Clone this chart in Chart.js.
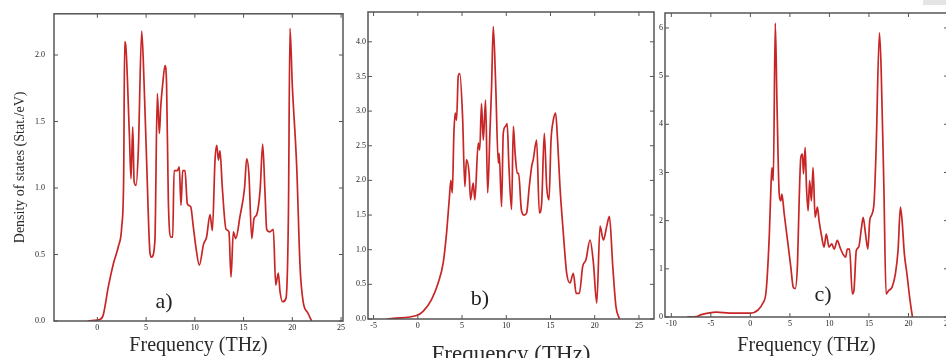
<!DOCTYPE html>
<html lang="en">
  <head>
    <meta charset="UTF-8" />
    <title>Phonon density of states</title>
    <script src="https://cdn.jsdelivr.net/npm/chart.js"></script>
    <style>
      body {
        margin: 0;
        background: #fff;
        overflow: hidden;
      }
      .wrap {
        position: relative;
        width: 946px;
        height: 358px;
        overflow: hidden;
      }
      canvas {
        position: absolute;
        top: 0;
      }
      .corner {
        position: absolute;
        left: 923px;
        top: 0;
        width: 23px;
        height: 5px;
        background: #e4e4e4;
      }
    </style>
  </head>
  <body>
    <div class="wrap">
      <canvas id="chartA" width="352" height="358" style="left: 0"></canvas>
      <canvas id="chartB" width="310" height="369" style="left: 350px"></canvas>
      <canvas id="chartC" width="310" height="358" style="left: 655px"></canvas>
      <div class="corner"></div>
    </div>

    <script>
      // panel a)
      const freqA = [-1.0, -0.4, 0.2, 0.6, 1.13, 1.64, 2.15, 2.5, 2.7, 2.8, 2.9, 3.28, 3.45, 3.63, 3.77, 3.97, 4.2, 4.55, 4.8, 5.07, 5.4, 5.55, 5.9, 6.15, 6.36, 6.5, 6.7, 6.94, 7.1, 7.28, 7.56, 7.73, 7.87, 8.2, 8.4, 8.58, 8.75, 8.99, 9.23, 9.57, 9.84, 10.1, 10.46, 10.9, 11.2, 11.56, 11.8, 12.07, 12.25, 12.42, 12.58, 12.82, 13.2, 13.5, 13.71, 13.95, 14.2, 14.64, 15.1, 15.32, 15.55, 15.84, 16.07, 16.35, 16.7, 16.96, 17.2, 17.37, 17.7, 18.05, 18.3, 18.56, 18.74, 19.0, 19.35, 19.6, 19.76, 20.0, 20.45, 20.8, 21.1, 21.6, 21.98];
      const dosA = [0.0, 0.005, 0.01, 0.045, 0.26, 0.43, 0.56, 0.71, 1.1, 2.1, 2.08, 1.41, 1.07, 1.46, 1.05, 1.02, 1.28, 2.18, 1.77, 1.16, 0.51, 0.48, 0.6, 1.71, 1.41, 1.61, 1.78, 1.92, 1.78, 0.91, 0.63, 0.63, 1.13, 1.13, 1.16, 0.87, 1.13, 1.13, 0.88, 0.86, 0.71, 0.56, 0.42, 0.58, 0.63, 0.8, 0.68, 1.21, 1.32, 1.21, 1.28, 1.0, 0.69, 0.67, 0.33, 0.67, 0.62, 0.79, 1.0, 1.22, 1.1, 0.62, 0.77, 0.8, 0.99, 1.33, 0.96, 0.69, 0.67, 0.69, 0.27, 0.36, 0.22, 0.145, 0.17, 0.8, 2.2, 1.77, 1.16, 0.4, 0.15, 0.06, 0.0];

      // panel b)
      const freqB = [-3.5, -2.8, -0.15, 0.6, 1.55, 2.3, 2.87, 3.25, 3.55, 3.74, 3.9, 4.08, 4.23, 4.38, 4.57, 4.75, 5.06, 5.32, 5.5, 5.8, 5.96, 6.26, 6.45, 6.83, 7.0, 7.2, 7.4, 7.66, 7.9, 8.15, 8.34, 8.53, 8.8, 9.1, 9.2, 9.47, 9.66, 9.92, 10.1, 10.3, 10.6, 10.8, 11.0, 11.25, 11.4, 11.7, 12.0, 12.3, 12.6, 12.87, 13.05, 13.43, 13.74, 14.0, 14.3, 14.57, 14.83, 15.06, 15.32, 15.58, 15.8, 16.07, 16.45, 16.83, 17.2, 17.58, 17.9, 18.26, 18.64, 19.0, 19.47, 19.85, 20.23, 20.6, 20.98, 21.36, 21.66, 22.04, 22.4, 22.8];
      const dosB = [0.0, 0.01, 0.05, 0.11, 0.28, 0.52, 0.81, 1.24, 1.72, 2.0, 1.82, 2.68, 2.97, 2.87, 3.5, 3.54, 2.92, 1.91, 2.3, 2.1, 1.72, 1.96, 1.72, 2.54, 2.44, 3.11, 2.58, 3.16, 1.82, 2.68, 3.35, 4.22, 3.4, 2.25, 2.39, 1.62, 2.68, 2.78, 2.82, 2.2, 1.58, 2.78, 2.39, 2.1, 2.1, 1.58, 1.5, 1.53, 1.91, 2.2, 2.3, 2.58, 1.53, 1.67, 2.68, 1.91, 1.72, 2.58, 2.87, 2.97, 2.58, 1.91, 1.24, 0.66, 0.52, 0.66, 0.37, 0.37, 0.76, 0.85, 1.14, 0.81, 0.23, 1.34, 1.14, 1.34, 1.48, 0.76, 0.18, 0.0];

      // panel c)
      const freqC = [-8.0, -6.84, -6.2, -5.37, -4.3, -2.6, -1.4, 0.08, 0.92, 1.55, 2.0, 2.4, 2.6, 2.73, 2.9, 3.15, 3.36, 3.65, 3.86, 3.99, 4.28, 4.7, 5.12, 5.42, 5.67, 5.96, 6.17, 6.38, 6.59, 6.72, 6.93, 7.1, 7.3, 7.5, 7.72, 7.93, 8.19, 8.48, 8.69, 9.03, 9.32, 9.6, 9.95, 10.3, 10.6, 11.0, 11.33, 11.7, 12.05, 12.26, 12.55, 12.9, 13.1, 13.4, 13.7, 14.06, 14.27, 14.57, 14.86, 15.1, 15.4, 15.66, 15.9, 16.33, 16.54, 16.88, 17.17, 17.5, 17.93, 18.35, 18.68, 18.98, 19.19, 19.48, 19.8, 20.2, 20.5];
      const dosC = [0.0, 0.01, 0.05, 0.08, 0.1, 0.08, 0.08, 0.08, 0.14, 0.28, 0.55, 1.72, 2.69, 3.1, 2.83, 6.1, 4.48, 2.55, 2.41, 2.55, 2.14, 1.59, 1.03, 0.62, 0.59, 1.1, 2.41, 3.31, 3.38, 2.97, 3.52, 2.69, 2.2, 2.83, 2.41, 3.1, 2.07, 2.28, 2.0, 1.66, 1.45, 1.72, 1.45, 1.52, 1.41, 1.59, 1.45, 1.31, 1.24, 1.41, 1.41, 0.48, 0.55, 1.38, 1.45, 1.86, 2.07, 1.72, 1.41, 2.0, 2.14, 2.41, 3.45, 5.9, 5.17, 2.76, 0.48, 0.55, 0.62, 0.9, 1.38, 2.28, 2.0, 1.31, 0.9, 0.34, 0.0];

      // tick labels
      const xTicksA = [0, 5, 10, 15, 20, 25];
      const yTicksA = [0, 0.5, 1.0, 1.5, 2.0];
      const xTicksB = [-5, 0, 5, 10, 15, 20, 25];
      const yTicksB = [0, 0.5, 1.0, 1.5, 2.0, 2.5, 3.0, 3.5, 4.0];
      const xTicksC = [-10, -5, 0, 5, 10, 15, 20, 25];
      const yTicksC = [0, 1, 2, 3, 4, 5, 6];

      const SERIF = '"Liberation Serif", "DejaVu Serif", serif';
      const AXIS = "#555";

      // box + inward tick marks + panel letter
      const frame = {
        id: "frame",
        afterDraw(chart, args, opts) {
          const { ctx, chartArea: a } = chart;
          const { x, y } = chart.scales;
          ctx.save();
          ctx.strokeStyle = AXIS;
          ctx.lineWidth = 1.5;
          ctx.strokeRect(a.left, a.top, a.right - a.left, a.bottom - a.top);
          ctx.lineWidth = 1;
          ctx.beginPath();
          x.ticks.forEach((t) => {
            const p = x.getPixelForValue(t.value);
            if (p < a.left || p > a.right) return;
            ctx.moveTo(p, a.bottom);
            ctx.lineTo(p, a.bottom - 4);
            ctx.moveTo(p, a.top);
            ctx.lineTo(p, a.top + 4);
          });
          y.ticks.forEach((t) => {
            const p = y.getPixelForValue(t.value);
            ctx.moveTo(a.left, p);
            ctx.lineTo(a.left + 4, p);
            ctx.moveTo(a.right, p);
            ctx.lineTo(a.right - 4, p);
          });
          ctx.stroke();
          ctx.font = "22px " + SERIF;
          ctx.fillStyle = "#222";
          ctx.textAlign = "center";
          ctx.textBaseline = "middle";
          ctx.fillText(opts.label, opts.lx, opts.ly);
          ctx.restore();
        },
      };

      function makePanel(id, p) {
        const ctx = document.getElementById(id).getContext("2d");
        return new Chart(ctx, {
          type: "line",
          data: {
            datasets: [
              {
                data: p.freq.map((f, i) => ({ x: f, y: p.dos[i] })),
                borderColor: "#c82626",
                borderWidth: 1.7,
                pointRadius: 0,
                cubicInterpolationMode: "monotone",
                fill: false,
              },
            ],
          },
          options: {
            responsive: false,
            animation: false,
            layout: { padding: p.padding },
            plugins: {
              legend: { display: false },
              tooltip: { enabled: false },
              frame: { label: p.label, lx: p.lx, ly: p.ly },
            },
            scales: {
              x: {
                type: "linear",
                min: p.xMin,
                max: p.xMax,
                grid: { display: false, drawTicks: false },
                border: { display: false },
                afterBuildTicks: (s) => {
                  s.ticks = p.xTicks.map((v) => ({ value: v }));
                },
                afterFit: (s) => {
                  s.height = p.xAxisH;
                },
                ticks: {
                  autoSkip: false,
                  maxRotation: 0,
                  padding: 2,
                  color: "#222",
                  font: { family: SERIF, size: 8 },
                },
                title: {
                  display: true,
                  text: "Frequency (THz)",
                  color: "#2a2a2a",
                  padding: 0,
                  font: { family: SERIF, size: p.titleSize },
                },
              },
              y: {
                min: 0,
                max: p.yMax,
                grid: { display: false, drawTicks: false },
                border: { display: false },
                afterBuildTicks: (s) => {
                  s.ticks = p.yTicks.map((v) => ({ value: v }));
                },
                afterFit: (s) => {
                  s.width = p.yAxisW;
                },
                ticks: {
                  padding: p.yPad,
                  color: "#222",
                  font: { family: SERIF, size: 8 },
                  callback: (v) => (p.yDigits ? v.toFixed(1) : String(v)),
                },
                title: {
                  display: !!p.yTitle,
                  text: p.yTitle || "",
                  color: "#2a2a2a",
                  padding: { top: 12, bottom: 0 },
                  font: { family: SERIF, size: 14 },
                },
              },
            },
          },
          plugins: [frame],
        });
      }

      makePanel("chartA", {
        freq: freqA, dos: dosA, xTicks: xTicksA, yTicks: yTicksA,
        xMin: -4.45, xMax: 25.2, yMax: 2.31, yDigits: true,
        padding: { top: 13, right: 9, left: 0, bottom: 0 },
        yAxisW: 54, xAxisH: 37, yPad: 9, titleSize: 20,
        yTitle: "Density of states (Stat./eV)",
        label: "a)", lx: 164, ly: 302,
      });

      makePanel("chartB", {
        freq: freqB, dos: dosB, xTicks: xTicksB, yTicks: yTicksB,
        xMin: -5.63, xMax: 26.7, yMax: 4.43, yDigits: true,
        padding: { top: 12, right: 6, left: 0, bottom: 0 },
        yAxisW: 18, xAxisH: 50, yPad: 2, titleSize: 23,
        label: "b)", lx: 130, ly: 299,
      });

      makePanel("chartC", {
        freq: freqC, dos: dosC, xTicks: xTicksC, yTicks: yTicksC,
        xMin: -10.8, xMax: 25, yMax: 6.31, yDigits: false,
        padding: { top: 13, right: 17, left: 0, bottom: 0 },
        yAxisW: 10, xAxisH: 41, yPad: 2, titleSize: 20,
        label: "c)", lx: 168, ly: 295,
      });
    </script>
  </body>
</html>
